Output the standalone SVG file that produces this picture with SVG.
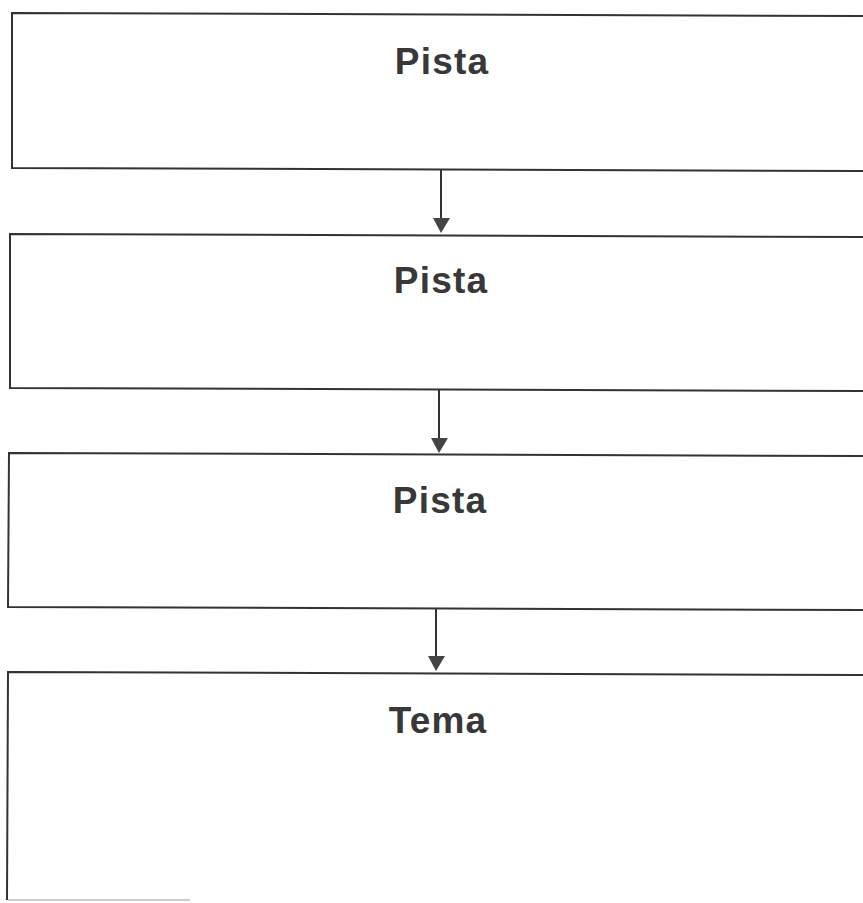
<svg xmlns="http://www.w3.org/2000/svg" width="863" height="903" viewBox="0 0 863 903">
<style>
.box{fill:#fff;stroke:#333;stroke-width:2}
.lbl{font-family:"Liberation Sans",Arial,sans-serif;font-weight:bold;font-size:37px;fill:#383838;text-anchor:middle;letter-spacing:1.2px}
.con{stroke:#333;stroke-width:2;fill:none}
.head{fill:#444}
</style>
<rect width="863" height="903" fill="#fff"/>
<g id="node1">
<path class="box" d="M866,16 L12,13 L12,168 L866,171"/>
<text class="lbl" x="442" y="74">Pista</text>
</g>
<g id="node2">
<path class="box" d="M866,237 L10,234 L10,388 L866,391"/>
<text class="lbl" x="441" y="293">Pista</text>
</g>
<g id="node3">
<path class="box" d="M866,456 L9,453 L8,607 L866,610"/>
<text class="lbl" x="440" y="513">Pista</text>
</g>
<g id="node4">
<path class="box" d="M866,675 L8,672 L7,900"/>
<line x1="8" y1="900" x2="190" y2="900" stroke="#bbb" stroke-width="1.5"/>
<text class="lbl" x="438" y="733">Tema</text>
</g>
<g id="connectors">
<line class="con" x1="441" y1="170" x2="441" y2="220"/>
<polygon class="head" points="433,218 450,218 441,233"/>
<line class="con" x1="439" y1="390" x2="439" y2="440"/>
<polygon class="head" points="431,438 448,438 439,453"/>
<line class="con" x1="436" y1="609" x2="436" y2="658"/>
<polygon class="head" points="428,656 445,656 436,671"/>
</g>
</svg>
